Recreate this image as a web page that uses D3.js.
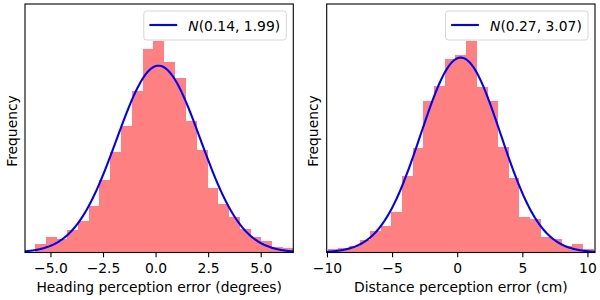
<!DOCTYPE html>
<html>
<head>
<meta charset="utf-8">
<script src="https://cdn.jsdelivr.net/npm/d3@7"></script>
<style>
  html, body { margin: 0; padding: 0; background: #fff; }
  svg { display: block; }
  text { font-family: "DejaVu Sans", sans-serif; }
</style>
</head>
<body>
<svg id="chart" width="600" height="300"></svg>
<script>
// ---- Data (histograms are densities) ----
const headingEdges = [-5.74, -5.23, -4.72, -4.20, -3.69, -3.18, -2.67, -2.16, -1.64, -1.13,
  -0.62, -0.11, 0.40, 0.92, 1.43, 1.94, 2.45, 2.96, 3.48, 3.99, 4.50, 5.01, 5.52, 6.04, 6.55];
const headingDensity = [0.0088, 0.0166, 0.0145, 0.0241, 0.0338, 0.0502, 0.0778, 0.1079, 0.1358, 0.1733,
  0.2184, 0.2270, 0.2041, 0.1870, 0.1411, 0.1100, 0.0692, 0.0520, 0.0381, 0.0247,
  0.0168, 0.0123, 0.0062, 0.0043];
const headingFit = { mu: 0.14, sigma: 1.99 };
const headingTicks = [-5, -2.5, 0, 2.5, 5];
const headingTickLabels = ["\u22125.0", "\u22122.5", "0.0", "2.5", "5.0"];
const headingXDomain = [-6.21, 6.55];
const headingYMax = 0.2667;

const distanceEdges = [-9.95, -9.13, -8.32, -7.50, -6.69, -5.87, -5.05, -4.24, -3.42, -2.61,
  -1.79, -0.97, -0.16, 0.66, 1.47, 2.29, 3.11, 3.92, 4.74, 5.55, 6.37, 7.19, 8.00, 8.82, 9.63, 10.45];
const distanceDensity = [0.0023, 0.0028, 0.0043, 0.0083, 0.0145, 0.0179, 0.0272, 0.0512, 0.0699, 0.1010,
  0.1110, 0.1290, 0.1317, 0.1410, 0.1101, 0.1010, 0.0705, 0.0499, 0.0239, 0.0223,
  0.0105, 0.0090, 0.0045, 0.0057, 0.0023];
const distanceFit = { mu: 0.27, sigma: 3.07 };
const distanceTicks = [-10, -5, 0, 5, 10];
const distanceTickLabels = ["\u221210", "\u22125", "0", "5", "10"];
const distanceXDomain = [-10.02, 10.58];
const distanceYMax = 0.1657;

const xLabels = ["Heading perception error (degrees)", "Distance perception error (cm)"];
const yLabel = "Frequency";
const legendLabels = [["N", "(0.14, 1.99)"], ["N", "(0.27, 3.07)"]];

// ---- Drawing ----
const svg = d3.select("#chart");
const FS = 13.89;

const panels = [
  { edges: headingEdges, dens: headingDensity, fit: headingFit, ticks: headingTicks,
    tickLabels: headingTickLabels, xd: headingXDomain, ymax: headingYMax,
    x0: 25, x1: 293.3, ylabX: 16.5, legend: legendLabels[0], xlabel: xLabels[0] },
  { edges: distanceEdges, dens: distanceDensity, fit: distanceFit, ticks: distanceTicks,
    tickLabels: distanceTickLabels, xd: distanceXDomain, ymax: distanceYMax,
    x0: 326.7, x1: 595, ylabX: 318, legend: legendLabels[1], xlabel: xLabels[1] }
];
const plotTop = 4, plotBottom = 252.5;

function normalPdf(v, mu, s) {
  return Math.exp(-0.5 * ((v - mu) / s) ** 2) / (s * Math.sqrt(2 * Math.PI));
}

panels.forEach((p, i) => {
  const x = d3.scaleLinear().domain(p.xd).range([p.x0, p.x1]);
  const y = d3.scaleLinear().domain([0, p.ymax]).range([plotBottom, plotTop]);
  const clipId = "clip" + i;
  svg.append("clipPath").attr("id", clipId)
    .append("rect").attr("x", p.x0).attr("y", plotTop)
    .attr("width", p.x1 - p.x0).attr("height", plotBottom - plotTop);

  const g = svg.append("g").attr("clip-path", `url(#${clipId})`);

  const bins = p.dens.map((d, k) => ({ a: p.edges[k], b: p.edges[k + 1], v: d }));
  g.selectAll("rect.bar").data(bins).join("rect")
    .attr("class", "bar")
    .attr("x", d => x(d.a))
    .attr("width", d => x(d.b) - x(d.a) + 0.5)
    .attr("y", d => y(d.v))
    .attr("height", d => y(0) - y(d.v))
    .attr("fill", "#ff8080")
    .attr("shape-rendering", "crispEdges");

  // fitted normal curve (from the legend's parameters)
  const xs = d3.range(0, 401).map(k => p.xd[0] + (p.xd[1] - p.xd[0]) * k / 400);
  const line = d3.line().x(d => x(d)).y(d => y(normalPdf(d, p.fit.mu, p.fit.sigma)));
  g.append("path").datum(xs).attr("d", line)
    .attr("fill", "none").attr("stroke", "#0000ff").attr("stroke-width", 2.1);

  // x axis
  const axis = d3.axisBottom(x).tickValues(p.ticks)
    .tickFormat((d, k) => p.tickLabels[k]).tickSize(4.86).tickSizeOuter(0).tickPadding(5.6);
  const ag = svg.append("g").attr("transform", `translate(0,${plotBottom})`).call(axis);
  ag.select(".domain").remove();
  ag.selectAll(".tick line").attr("stroke", "#000").attr("stroke-width", 1.1);
  ag.selectAll(".tick text").attr("font-size", FS).attr("fill", "#000")
    .attr("font-family", "DejaVu Sans, sans-serif");

  // spines
  svg.append("rect").attr("x", p.x0).attr("y", plotTop)
    .attr("width", p.x1 - p.x0).attr("height", plotBottom - plotTop)
    .attr("fill", "none").attr("stroke", "#000").attr("stroke-width", 1.1);

  // labels
  svg.append("text").attr("x", (p.x0 + p.x1) / 2).attr("y", 291.5)
    .attr("text-anchor", "middle").attr("font-size", FS).attr("fill", "#000")
    .text(p.xlabel);
  svg.append("text").attr("transform", `translate(${p.ylabX},131) rotate(-90)`)
    .attr("text-anchor", "middle").attr("font-size", FS).attr("fill", "#000")
    .text(yLabel);

  // legend
  const lw = 142.5, lh = 29;
  const lx = p.x1 - 7 - lw, ly = plotTop + 7;
  svg.append("rect").attr("x", lx).attr("y", ly).attr("width", lw).attr("height", lh)
    .attr("rx", 2.8).attr("fill", "#fff").attr("fill-opacity", 0.8)
    .attr("stroke", "#d6d6d6").attr("stroke-width", 1);
  svg.append("line").attr("x1", lx + 5.6).attr("x2", lx + 5.6 + 27.8)
    .attr("y1", ly + 14).attr("y2", ly + 14)
    .attr("stroke", "#0000ff").attr("stroke-width", 2.1);
  const t = svg.append("text").attr("x", lx + 5.6 + 27.8 + 11.1).attr("y", ly + 20)
    .attr("font-size", FS).attr("fill", "#000");
  t.append("tspan").attr("font-style", "italic").text(p.legend[0]);
  t.append("tspan").text(p.legend[1]);
});
</script>
</body>
</html>
